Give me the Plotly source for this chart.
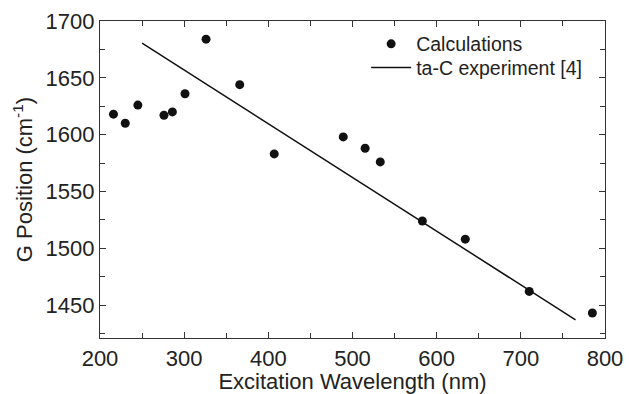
import plotly.graph_objects as go

# Calculations
wavelength_nm = [216, 230, 245, 276, 286, 301, 326, 366, 407, 489, 515, 533, 583, 634, 710, 785]
g_position = [1618, 1610, 1626, 1617, 1620, 1636, 1684, 1644, 1583, 1598, 1588, 1576, 1524, 1508, 1462, 1443]

# ta-C experiment [4] (linear trend endpoints)
exp_wavelength_nm = [250, 765]
exp_g_position = [1680.5, 1437]

font_family = "Liberation Sans, Arial, Helvetica, sans-serif"
axis_color = "#333333"
text_color = "#222222"

fig = go.Figure()
fig.add_trace(go.Scatter(
    x=wavelength_nm, y=g_position, mode="markers", name="Calculations",
    marker=dict(color="#111111", size=9), legend="legend",
))
fig.add_trace(go.Scatter(
    x=exp_wavelength_nm, y=exp_g_position, mode="lines", name="ta-C experiment [4]",
    line=dict(color="#111111", width=1.5), legend="legend2",
))

axis_common = dict(
    showline=True, linecolor=axis_color, linewidth=1.2, mirror="allticks",
    ticks="inside", ticklen=6, tickwidth=1, tickcolor=axis_color,
    showgrid=False, zeroline=False, automargin=False,
    tickfont=dict(family=font_family, size=22, color=text_color),
)

fig.update_xaxes(
    range=[200, 800], dtick=100, tick0=200,
    minor=dict(dtick=50, ticks="inside", ticklen=5, tickcolor=axis_color, showgrid=False),
    title=dict(text="Excitation Wavelength (nm)", font=dict(family=font_family, size=22, color=text_color), standoff=2),
    **axis_common,
)
fig.update_yaxes(
    range=[1421, 1700], dtick=50, tick0=1450,
    minor=dict(dtick=25, ticks="inside", ticklen=5, tickcolor=axis_color, showgrid=False),
    title=dict(text="G Position (cm<sup>-1</sup>)", font=dict(family=font_family, size=22, color=text_color), standoff=6),
    **axis_common,
)

legend_common = dict(
    xanchor="left", yanchor="middle",
    bgcolor="rgba(0,0,0,0)",
    font=dict(family=font_family, size=19.5, color=text_color),
    itemwidth=40,
)

fig.update_layout(
    width=629, height=394,
    margin=dict(l=100, r=24, t=21, b=56),
    paper_bgcolor="white", plot_bgcolor="white",
    showlegend=True,
    legend=dict(x=0.527, y=0.927, **legend_common),
    legend2=dict(x=0.527, y=0.852, **legend_common),
)

fig.write_html(
    "out.html",
    config={"displayModeBar": False},
    post_script="document.body.style.margin='0';document.body.style.overflow='hidden';",
)
